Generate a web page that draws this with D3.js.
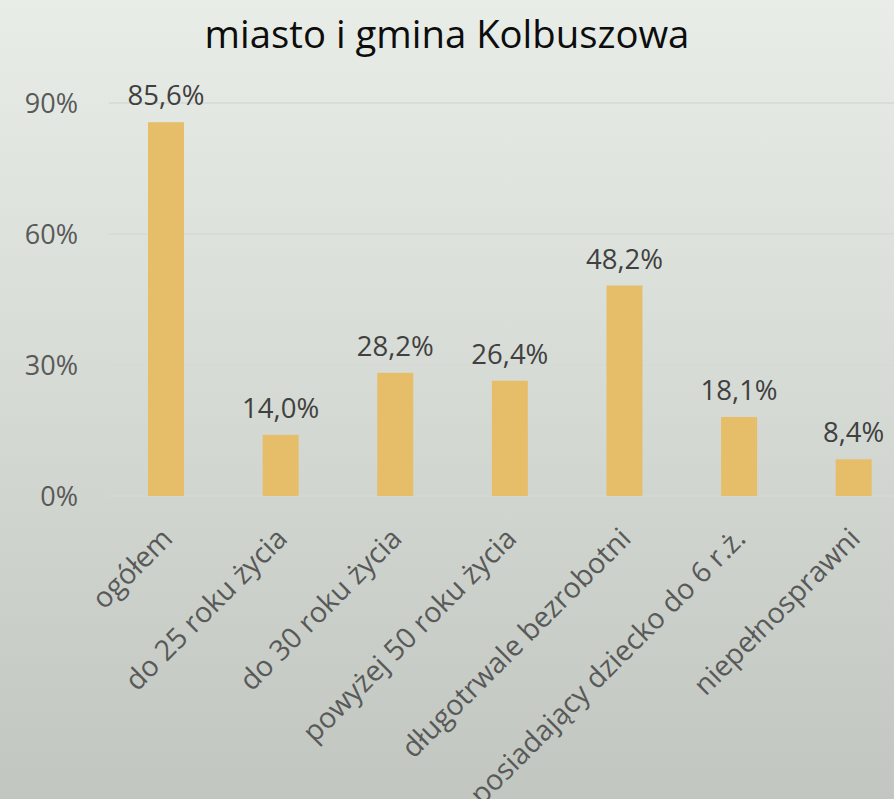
<!DOCTYPE html>
<html>
<head>
<meta charset="utf-8">
<script src="https://cdn.jsdelivr.net/npm/d3@7"></script>
<style>
  html, body { margin: 0; padding: 0; }
  body { width: 894px; height: 799px; overflow: hidden; }
  svg { display: block; font-family: "Open Sans", sans-serif; }
</style>
</head>
<body>
<div id="chart"></div>
<script>
// --- Data ---
const categories = [
  "ogółem",
  "do 25 roku życia",
  "do 30 roku życia",
  "powyżej 50 roku życia",
  "długotrwale bezrobotni",
  "posiadający dziecko do 6 r.ż.",
  "niepełnosprawni"
];
const values = [85.6, 14.0, 28.2, 26.4, 48.2, 18.1, 8.4];
const yTicks = [0, 30, 60, 90];
const title = "miasto i gmina Kolbuszowa";

// --- Layout ---
const W = 894, H = 799;
const plot = { left: 108.7, right: 911, top: 103, bottom: 496 };
const BAR_FRAC = 0.314;

const svg = d3.select("#chart").append("svg")
  .attr("width", W)
  .attr("height", H);

// background gradient
const defs = svg.append("defs");
const grad = defs.append("linearGradient")
  .attr("id", "bg")
  .attr("x1", 0).attr("y1", 0).attr("x2", 0).attr("y2", 1);
grad.append("stop").attr("offset", "0%").attr("stop-color", "#e9ede8");
grad.append("stop").attr("offset", "100%").attr("stop-color", "#c1c7c0");
svg.append("rect").attr("width", W).attr("height", H).attr("fill", "url(#bg)");

const x = d3.scaleBand()
  .domain(categories)
  .range([plot.left, plot.right])
  .padding(0);

const y = d3.scaleLinear()
  .domain([0, 90])
  .range([plot.bottom, plot.top]);

// gridlines
svg.append("g")
  .selectAll("line")
  .data(yTicks)
  .join("line")
  .attr("x1", plot.left)
  .attr("x2", W)
  .attr("y1", d => y(d))
  .attr("y2", d => y(d))
  .attr("stroke", "#d6d8d5")
  .attr("stroke-width", 1.5);

// y tick labels
svg.append("g")
  .selectAll("text")
  .data(yTicks)
  .join("text")
  .attr("x", 78)
  .attr("y", d => y(d))
  .attr("dy", "0.36em")
  .attr("text-anchor", "end")
  .attr("fill", "#595959")
  .attr("font-size", 27)
  .text(d => d + "%");

// bars
const bw = x.bandwidth() * BAR_FRAC;
svg.append("g")
  .selectAll("rect")
  .data(values)
  .join("rect")
  .attr("x", (d, i) => x(categories[i]) + x.bandwidth() / 2 - bw / 2)
  .attr("y", d => y(d))
  .attr("width", bw)
  .attr("height", d => y(0) - y(d))
  .attr("fill", "#e6be69");

// value labels
const fmt = v => v.toFixed(1).replace(".", ",") + "%";
svg.append("g")
  .selectAll("text")
  .data(values)
  .join("text")
  .attr("x", (d, i) => x(categories[i]) + x.bandwidth() / 2)
  .attr("y", d => y(d) - 17)
  .attr("text-anchor", "middle")
  .attr("fill", "#404040")
  .attr("font-size", 27.5)
  .text(fmt);

// category labels (rotated)
svg.append("g")
  .selectAll("text")
  .data(categories)
  .join("text")
  .attr("transform", d => `translate(${x(d) + x.bandwidth() / 2 + 1},${plot.bottom + 37}) rotate(-45)`)
  .attr("text-anchor", "end")
  .attr("dy", "0.36em")
  .attr("fill", "#595959")
  .attr("font-size", 28.5)
  .text(d => d);

// title
svg.append("text")
  .attr("x", W / 2)
  .attr("y", 48)
  .attr("text-anchor", "middle")
  .attr("fill", "#0d0d0d")
  .attr("font-size", 38.3)
  .text(title);
</script>
</body>
</html>
